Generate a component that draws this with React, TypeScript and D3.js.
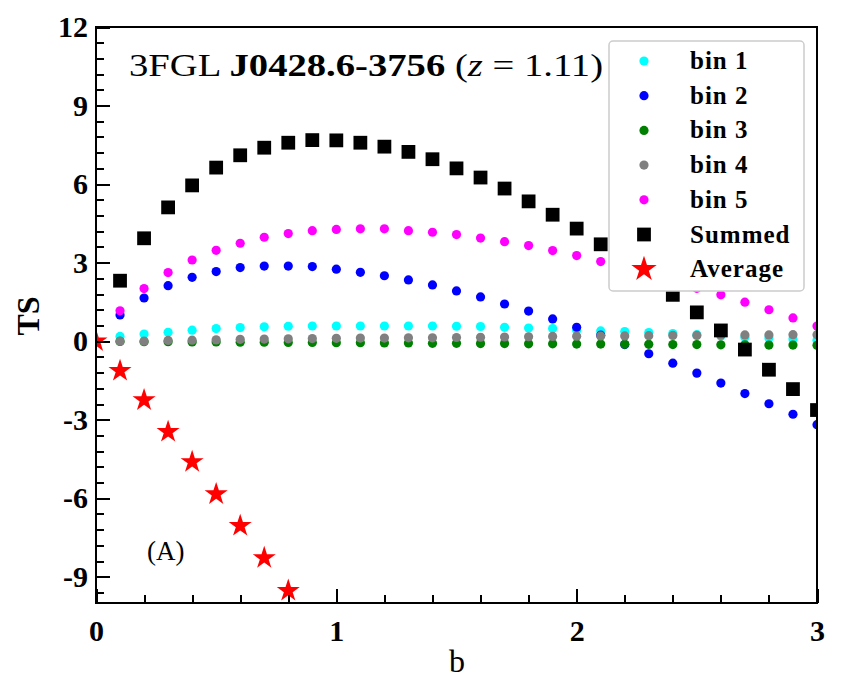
import React, { useEffect, useRef } from 'react';
import * as d3 from 'd3';

// b grid shared by the five bins and the summed curve
const bGrid = [0.1, 0.2, 0.3, 0.4, 0.5, 0.6, 0.7, 0.8, 0.9, 1.0,
    1.1, 1.2, 1.3, 1.4, 1.5, 1.6, 1.7, 1.8, 1.9, 2.0,
    2.1, 2.2, 2.3, 2.4, 2.5, 2.6, 2.7, 2.8, 2.9, 3.0];

const bin1 = [0.18, 0.27, 0.34, 0.42, 0.48, 0.52, 0.55, 0.57, 0.58, 0.58,
    0.58, 0.58, 0.58, 0.58, 0.57, 0.56, 0.53, 0.50, 0.48, 0.42,
    0.39, 0.37, 0.33, 0.29, 0.25, 0.20, 0.15, 0.12, 0.08, 0.04];
const bin2 = [1.00, 1.65, 2.12, 2.44, 2.66, 2.81, 2.87, 2.87, 2.85, 2.75,
    2.63, 2.50, 2.34, 2.15, 1.92, 1.69, 1.42, 1.15, 0.85, 0.53,
    0.23, -0.13, -0.48, -0.84, -1.22, -1.60, -2.00, -2.39, -2.79, -3.19];
const bin3 = [-0.01, -0.02, -0.02, -0.03, -0.03, -0.04, -0.04, -0.05, -0.05, -0.06,
    -0.06, -0.07, -0.07, -0.08, -0.08, -0.09, -0.09, -0.10, -0.10, -0.11,
    -0.11, -0.12, -0.12, -0.13, -0.13, -0.14, -0.14, -0.15, -0.15, -0.16];
const bin4 = [0.00, 0.00, 0.03, 0.04, 0.05, 0.07, 0.08, 0.09, 0.10, 0.11,
    0.12, 0.12, 0.13, 0.13, 0.14, 0.15, 0.16, 0.17, 0.18, 0.19,
    0.20, 0.20, 0.21, 0.22, 0.22, 0.23, 0.24, 0.24, 0.25, 0.25];
const bin5 = [1.16, 2.01, 2.62, 3.10, 3.47, 3.74, 3.97, 4.11, 4.22, 4.27,
    4.29, 4.29, 4.22, 4.16, 4.07, 3.94, 3.80, 3.65, 3.46, 3.27,
    3.04, 2.80, 2.55, 2.28, 2.02, 1.77, 1.49, 1.20, 0.89, 0.58];
const summed = [2.31, 3.93, 5.11, 5.95, 6.63, 7.10, 7.39, 7.58, 7.68, 7.67,
    7.58, 7.43, 7.23, 6.95, 6.60, 6.25, 5.83, 5.34, 4.83, 4.30,
    3.70, 3.05, 2.42, 1.77, 1.10, 0.41, -0.32, -1.09, -1.83, -2.63];

// the average is only shown down to the lower edge of the axes
const bAverage = [0.0, 0.1, 0.2, 0.3, 0.4, 0.5, 0.6, 0.7, 0.8];
const average = [0.0, -1.13, -2.25, -3.46, -4.61, -5.84, -7.05, -8.28, -9.53];

const binNames = ['bin 1', 'bin 2', 'bin 3', 'bin 4', 'bin 5'];
const binColors = ['#00ffff', '#0000ff', '#008000', '#808080', '#ff00ff'];
const binValues = [bin1, bin2, bin3, bin4, bin5];

const yTicks = [-9, -6, -3, 0, 3, 6, 9, 12];
const xTicks = [0, 1, 2, 3];

const FONT = '"Liberation Serif", "Times New Roman", serif';

const App = () => {
    const ref = useRef<HTMLDivElement>(null);

    useEffect(() => {
        document.body.style.margin = '0';
        const root = d3.select(ref.current);
        root.selectAll('*').remove();

        const W = 844;
        const H = 694;
        const margin = { top: 27, right: 27, bottom: 91, left: 96 };
        const width = W - margin.left - margin.right;
        const height = H - margin.top - margin.bottom;

        const svg = root.append('svg')
            .attr('width', W)
            .attr('height', H)
            .style('display', 'block')
            .style('background', '#fff');

        const g = svg.append('g')
            .attr('transform', `translate(${margin.left},${margin.top})`);

        const x = d3.scaleLinear().domain([0, 3]).range([0, width]);
        const y = d3.scaleLinear().domain([-10, 12]).range([height, 0]);

        svg.append('defs').append('clipPath')
            .attr('id', 'plot-clip')
            .append('rect')
            .attr('width', width)
            .attr('height', height);

        const plot = g.append('g').attr('clip-path', 'url(#plot-clip)');

        // five bins as small filled circles
        binValues.forEach((vals, k) => {
            plot.append('g')
                .selectAll('circle')
                .data(vals)
                .enter()
                .append('circle')
                .attr('cx', (d, i) => x(bGrid[i]))
                .attr('cy', (d) => y(d))
                .attr('r', 4.6)
                .attr('fill', binColors[k]);
        });

        const square = d3.symbol().type(d3.symbolSquare).size(190);
        const star = d3.symbol().type(d3.symbolStar).size(165);

        plot.append('g')
            .selectAll('path')
            .data(summed)
            .enter()
            .append('path')
            .attr('d', square)
            .attr('transform', (d, i) => `translate(${x(bGrid[i])},${y(d)})`)
            .attr('fill', '#000');

        plot.append('g')
            .selectAll('path')
            .data(average)
            .enter()
            .append('path')
            .attr('d', star)
            .attr('transform', (d, i) => `translate(${x(bAverage[i])},${y(d)})`)
            .attr('fill', '#ff0000');

        // inward ticks on the left and bottom spines
        const yAxis = d3.axisLeft(y).tickValues(yTicks).tickSize(-14).tickPadding(8)
            .tickFormat((d) => `${d}`);
        const yMinor = d3.axisLeft(y).tickValues(d3.range(-9.6, 12.01, 0.6)).tickSize(-8)
            .tickFormat(() => '');
        const xAxis = d3.axisBottom(x).tickValues(xTicks).tickSize(-14).tickPadding(17)
            .tickFormat((d) => `${d}`);
        const xMinor = d3.axisBottom(x).tickValues(d3.range(0.2, 3, 0.2)).tickSize(-8)
            .tickFormat(() => '');

        const styleAxis = (sel: any) => {
            sel.select('.domain').remove();
            sel.selectAll('.tick line')
                .attr('stroke', '#000')
                .attr('stroke-width', 2)
                .attr('shape-rendering', 'crispEdges');
            sel.selectAll('.tick text')
                .attr('fill', '#000')
                .style('font-family', FONT)
                .style('font-size', '30px')
                .style('font-weight', 'bold');
        };

        g.append('g').call(yMinor).call(styleAxis);
        g.append('g').call(yAxis).call(styleAxis);
        g.append('g').attr('transform', `translate(0,${height})`).call(xMinor).call(styleAxis);
        g.append('g').attr('transform', `translate(0,${height})`).call(xAxis).call(styleAxis);

        g.append('rect')
            .attr('width', width)
            .attr('height', height)
            .attr('fill', 'none')
            .attr('stroke', '#000')
            .attr('stroke-width', 2)
            .attr('shape-rendering', 'crispEdges');

        // axis titles
        svg.append('text')
            .attr('x', 457)
            .attr('y', 672)
            .attr('text-anchor', 'middle')
            .style('font-family', FONT)
            .style('font-size', '32px')
            .text('b');

        svg.append('text')
            .attr('transform', 'translate(39,316) rotate(-90)')
            .attr('text-anchor', 'middle')
            .style('font-family', FONT)
            .style('font-size', '32px')
            .style('font-weight', 'bold')
            .text('TS');

        // source name and redshift
        const title = svg.append('text')
            .attr('x', 129)
            .attr('y', 76)
            .attr('textLength', 474)
            .attr('lengthAdjust', 'spacingAndGlyphs')
            .style('font-family', FONT)
            .style('font-size', '31px');
        title.append('tspan').text('3FGL ');
        title.append('tspan').style('font-weight', 'bold').text('J0428.6-3756 ');
        title.append('tspan').text('(');
        title.append('tspan').style('font-style', 'italic').text('z');
        title.append('tspan').text(' = 1.11)');

        svg.append('text')
            .attr('x', 147)
            .attr('y', 560)
            .style('font-family', FONT)
            .style('font-size', '27px')
            .text('(A)');

        // legend
        const legend = svg.append('g').attr('transform', 'translate(609,41)');
        legend.append('rect')
            .attr('width', 195)
            .attr('height', 250)
            .attr('rx', 4)
            .attr('fill', '#fff')
            .attr('stroke', '#cccccc')
            .attr('stroke-width', 1.5);

        const rowY = (i: number) => 20 + i * 34.7;
        const labels = [...binNames, 'Summed', 'Average'];
        labels.forEach((name, i) => {
            const row = legend.append('g').attr('transform', `translate(35,${rowY(i)})`);
            if (i < 5) {
                row.append('circle').attr('r', 4.6).attr('fill', binColors[i]);
            } else if (i === 5) {
                row.append('path').attr('d', square).attr('fill', '#000');
            } else {
                row.append('path').attr('d', d3.symbol().type(d3.symbolStar).size(200)).attr('fill', '#ff0000');
            }
            legend.append('text')
                .attr('x', 81)
                .attr('y', rowY(i) + 8)
                .style('font-family', FONT)
                .style('font-size', '25px')
                .style('font-weight', 'bold')
                .style('letter-spacing', '1px')
                .text(name);
        });
    }, []);

    return <div ref={ref} />;
};

export default App;
